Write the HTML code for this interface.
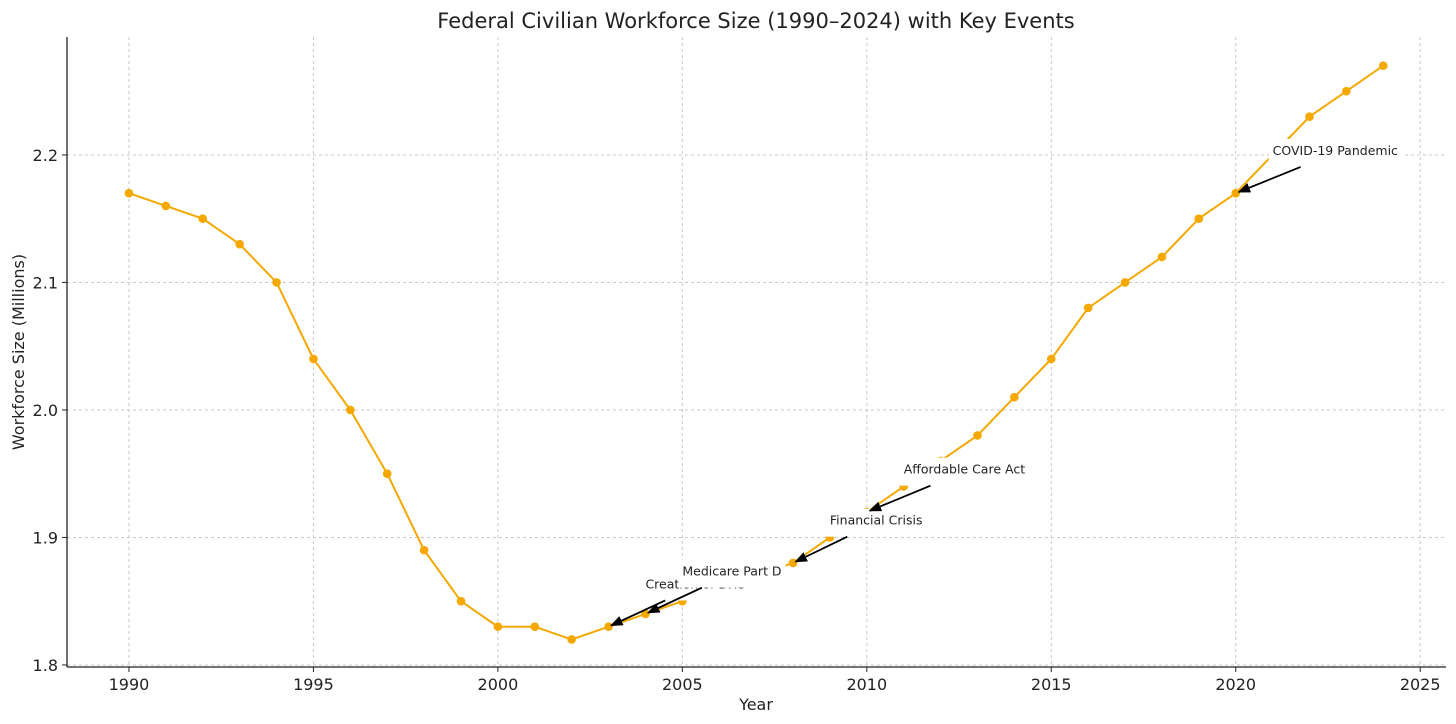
<!DOCTYPE html>
<html><head><meta charset="utf-8"><style>
body{margin:0;background:#fff;}
svg{display:block;font-family:"DejaVu Sans","Liberation Sans",sans-serif;}
</style></head><body>
<svg id="chart" width="1456" height="724">
<text x="756" y="28" font-size="21" text-anchor="middle" fill="#222">Federal Civilian Workforce Size (1990–2024) with Key Events</text>
<g id="grid"></g><g id="axes"></g><g id="series"></g><g id="ann"></g>
<text x="756" y="710" font-size="16" text-anchor="middle" fill="#222">Year</text>
<text transform="translate(24,352) rotate(-90)" font-size="16" text-anchor="middle" fill="#222">Workforce Size (Millions)</text>
</svg>
<script>
const years=[1990,1991,1992,1993,1994,1995,1996,1997,1998,1999,2000,2001,2002,2003,2004,2005,2006,2007,2008,2009,2010,2011,2012,2013,2014,2015,2016,2017,2018,2019,2020,2021,2022,2023,2024];
const workforce=[2.17,2.16,2.15,2.13,2.10,2.04,2.00,1.95,1.89,1.85,1.83,1.83,1.82,1.83,1.84,1.85,1.86,1.87,1.88,1.90,1.92,1.94,1.96,1.98,2.01,2.04,2.08,2.10,2.12,2.15,2.17,2.20,2.23,2.25,2.27];
const xTicks=[1990,1995,2000,2005,2010,2015,2020,2025];
const yTicks=[1.8,1.9,2.0,2.1,2.2];
const eventLabels=["Creation of DHS","Medicare Part D","Financial Crisis","Affordable Care Act","COVID-19 Pandemic"];
const eventYears=[2003,2004,2008,2010,2020];
const eventValues=[1.83,1.84,1.88,1.92,2.17];
const L=67,R=1446,T=37,B=667,X0=1988.32,X1=2025.7,Y0=1.7984,Y1=2.2925;
const sx=v=>L+(v-X0)/(X1-X0)*(R-L), sy=v=>B-(v-Y0)/(Y1-Y0)*(B-T);
const NS="http://www.w3.org/2000/svg";
function mk(t,a,p){const e=document.createElementNS(NS,t);for(const k in a)e.setAttribute(k,a[k]);p.appendChild(e);return e;}
const grid=document.getElementById('grid'),axes=document.getElementById('axes'),ser=document.getElementById('series'),ann=document.getElementById('ann');
xTicks.forEach(t=>{const x=sx(t);
 const g=mk('line',{x1:x,x2:x,y1:T,y2:B,stroke:'#c8c8c8','stroke-dasharray':'3,3'},grid);
 
 mk('line',{x1:x,x2:x,y1:B,y2:B+5,stroke:'#222'},axes);
 const l=mk('text',{x:x,y:B+23,'font-size':16,'text-anchor':'middle',fill:'#222'},axes);l.textContent=t;
 });
yTicks.forEach(t=>{const y=sy(t);
 const g=mk('line',{x1:L,x2:R,y1:y,y2:y,stroke:'#c8c8c8','stroke-dasharray':'3,3'},grid);
 
 mk('line',{x1:L-5,x2:L,y1:y,y2:y,stroke:'#222'},axes);
 const l=mk('text',{x:L-9,y:y+6,'font-size':16,'text-anchor':'end',fill:'#222'},axes);l.textContent=t.toFixed(1);
 });
const ya=mk('line',{x1:L,x2:L,y1:T,y2:B,stroke:'#222','stroke-width':1.3},axes);

const xa=mk('line',{x1:L,x2:R,y1:B,y2:B,stroke:'#222','stroke-width':1.3},axes);

const line=mk('polyline',{points:years.map((y,i)=>sx(y)+','+sy(workforce[i])).join(' '),fill:'none',stroke:'#f5a800','stroke-width':2},ser);

years.forEach((y,i)=>{const c=mk('circle',{cx:sx(y),cy:sy(workforce[i]),r:4.3,fill:'#f5a800'},ser);
 });
mk('marker',{id:'ah',viewBox:'0 0 10 10',refX:9,refY:5,markerWidth:7,markerHeight:7,orient:'auto'},mk('defs',{},ann)).appendChild(document.createElementNS(NS,'path')).setAttribute('d','M0,1 L10,5 L0,9 z');
eventLabels.forEach((lab,i)=>{
 const tx=sx(eventYears[i]+1),ty=sy(eventValues[i]+0.03);
 const g=mk('g',{},ann);
 
 const bg=mk('rect',{fill:'#fff'},g);
 const t=mk('text',{x:tx,y:ty,'font-size':12.5,fill:'#222'},g);t.textContent=lab;
 const w=t.getComputedTextLength();
 const bx0=tx-4,by0=ty-16,bx1=tx+w+4,by1=ty+12;
 bg.setAttribute('x',bx0);bg.setAttribute('y',by0);bg.setAttribute('width',bx1-bx0);bg.setAttribute('height',by1-by0);
 const cx=(bx0+bx1)/2,cy=(by0+by1)/2,px=sx(eventYears[i]),py=sy(eventValues[i]);
 const dx=px-cx,dy=py-cy;let s=Math.min(Math.abs((bx1-bx0)/2/dx)||9,Math.abs((by1-by0)/2/dy)||9);
 const ax=cx+dx*s,ay=cy+dy*s;
 const a=mk('line',{x1:ax,y1:ay,x2:px+dx*-0.03,y2:py+dy*-0.03,stroke:'#000','stroke-width':1.8,'marker-end':'url(#ah)'},g);
 
});
</script>
</body></html>
